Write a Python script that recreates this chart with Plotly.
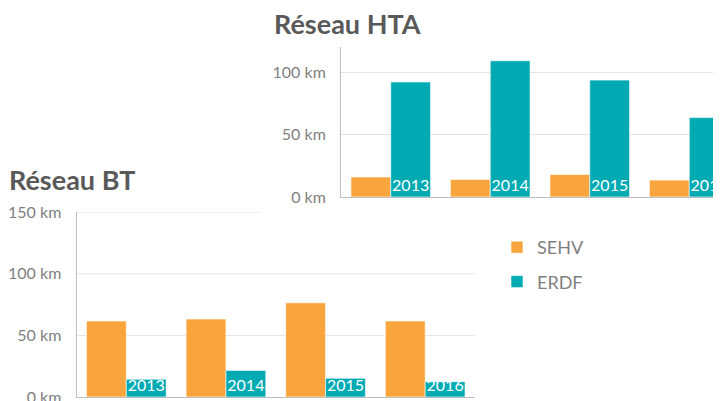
import plotly.graph_objects as go

years = ["2013", "2014", "2015", "2016"]
hta_sehv = [16, 14, 18, 13.5]
hta_erdf = [92, 109, 93.5, 63.5]
bt_sehv = [61.7, 63.3, 76.5, 61.7]
bt_erdf = [14.4, 21.6, 15.2, 12.4]
series_names = ["SEHV", "ERDF"]
hta_ticks = [0, 50, 100]
bt_ticks = [0, 50, 100, 150]
hta_tick_labels = ["0 km", "50 km", "100 km"]
bt_tick_labels = ["0 km", "50 km", "100 km", "150 km"]

ORANGE = "#F9A53D"
TEAL = "#00AAB3"
FONT = "Lato"
TICK_COL = "#7F7F7F"
TITLE_COL = "#595959"
GRID_COL = "#E4E4E4"
AXIS_COL = "#BFBFBF"

fig = go.Figure()

bar_line = dict(color="white", width=0.6)
label_font = dict(color="white", size=16, family=FONT)

# HTA chart (top right)
fig.add_trace(go.Bar(x=years, y=hta_sehv, name=series_names[0], marker=dict(color=ORANGE, line=bar_line),
                     xaxis="x", yaxis="y", legendgroup="a", showlegend=True))
fig.add_trace(go.Bar(x=years, y=hta_erdf, name=series_names[1], marker=dict(color=TEAL, line=bar_line),
                     text=years, textposition="inside", insidetextanchor="start", textangle=0,
                     textfont=label_font, cliponaxis=False,
                     xaxis="x", yaxis="y", legendgroup="b", showlegend=True))
# BT chart (bottom left)
fig.add_trace(go.Bar(x=years, y=bt_sehv, name=series_names[0], marker=dict(color=ORANGE, line=bar_line),
                     xaxis="x2", yaxis="y2", legendgroup="a", showlegend=False))
fig.add_trace(go.Bar(x=years, y=bt_erdf, name=series_names[1], marker=dict(color=TEAL, line=bar_line),
                     text=years, textposition="inside", insidetextanchor="start", textangle=0,
                     textfont=label_font, cliponaxis=False,
                     xaxis="x2", yaxis="y2", legendgroup="b", showlegend=False))

W, H = 721, 401
OFF = 8  # page offset of the figure inside the browser window


def px_x(v):
    return (v - OFF) / W


def px_y(v):
    return (H - (v - OFF)) / H


bt_x0, bt_x1 = 76.5, 475
cat_w = 99.5
hta_x0 = 341
hta_span = (W + OFF - hta_x0) / cat_w

fig.update_layout(
    width=W, height=H,
    margin=dict(l=0, r=0, t=0, b=0, autoexpand=False),
    paper_bgcolor="white", plot_bgcolor="white",
    font=dict(family=FONT, color=TICK_COL),
    barmode="group", bargap=0.2, bargroupgap=0,
    uniformtext=dict(mode="show", minsize=16),
    xaxis=dict(domain=[px_x(hta_x0), 1], range=[-0.5, -0.5 + hta_span], showticklabels=False, showgrid=False,
               showline=True, linecolor=AXIS_COL, linewidth=1, ticks="", zeroline=False, automargin=False),
    yaxis=dict(domain=[px_y(197), px_y(47)], range=[0, 120], tickvals=hta_ticks, ticktext=hta_tick_labels,
               showline=True, linecolor=AXIS_COL, linewidth=1, showgrid=True, gridcolor=GRID_COL,
               zeroline=False, ticks="", ticklabelstandoff=11, tickfont=dict(size=16, color=TICK_COL),
               automargin=False),
    xaxis2=dict(domain=[px_x(bt_x0), px_x(bt_x1)], range=[-0.5, 3.5], showticklabels=False, showgrid=False,
                showline=True, linecolor=AXIS_COL, linewidth=1, ticks="", zeroline=False, anchor="y2",
                automargin=False),
    yaxis2=dict(domain=[px_y(397), px_y(212.3)], range=[0, 150], tickvals=bt_ticks, ticktext=bt_tick_labels,
                showline=True, linecolor=AXIS_COL, linewidth=1, showgrid=False,
                zeroline=False, ticks="", ticklabelstandoff=11, tickfont=dict(size=16, color=TICK_COL),
                anchor="x2", automargin=False),
    legend=dict(x=px_x(497), y=px_y(229), xanchor="left", yanchor="top", orientation="v",
                font=dict(size=18, color=TICK_COL, family=FONT), tracegroupgap=8, bgcolor="rgba(0,0,0,0)"),
    showlegend=True,
)

# BT gridlines (the top one is hidden behind the HTA chart block)
for val, x_end in [(50, 1), (100, 1), (150, (261 - bt_x0) / (bt_x1 - bt_x0))]:
    fig.add_shape(type="line", xref="x2 domain", yref="y2", x0=0, x1=x_end, y0=val, y1=val,
                  line=dict(color=GRID_COL, width=1), layer="below")

fig.add_annotation(text="<b>Réseau HTA</b>", xref="paper", yref="paper", x=px_x(272), y=px_y(23.5),
                   xanchor="left", yanchor="middle", showarrow=False,
                   font=dict(size=27, color=TITLE_COL, family=FONT))
fig.add_annotation(text="<b>Réseau BT</b>", xref="paper", yref="paper", x=px_x(7), y=px_y(179.5),
                   xanchor="left", yanchor="middle", showarrow=False,
                   font=dict(size=27, color=TITLE_COL, family=FONT))

fig.write_html("out.html")
